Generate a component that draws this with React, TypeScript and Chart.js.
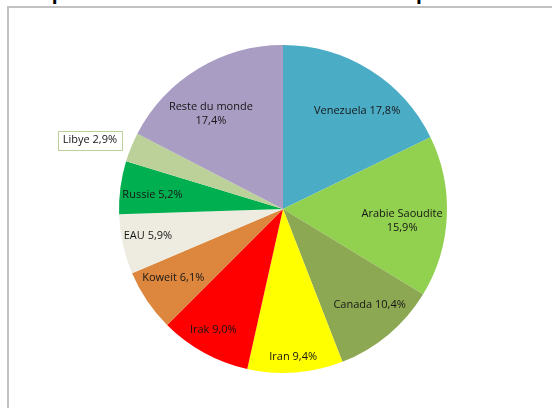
import React, { useEffect, useRef } from "react";
import { Chart, registerables } from "chart.js";

Chart.register(...registerables);

const TITLE = "Répartition des réserves mondiales de pétrole";
const categories = [
  "Venezuela",
  "Arabie Saoudite",
  "Canada",
  "Iran",
  "Irak",
  "Koweit",
  "EAU",
  "Russie",
  "Libye",
  "Reste du monde",
];
const shares = [17.8, 15.9, 10.4, 9.4, 9.0, 6.1, 5.9, 5.2, 2.9, 17.4];
const colors = [
  "#4BACC6",
  "#92D050",
  "#8DA852",
  "#FFFF00",
  "#FF0000",
  "#DC873D",
  "#EEECE1",
  "#00B050",
  "#BCD199",
  "#A99DC3",
];
// label layout: fraction of radius, angle shift (deg) from slice bisector, wrap, boxed
const labelRadius = [0.75, 0.73, 0.79, 0.905, 0.85, 0.79, 0.84, 0.8, 1.25, 0.727];
const labelShift = [5, 3.2, -2, 0.4, 1.2, 1.9, 1.1, -1.5, -2.5, -5.9];
const labelWrap = [false, true, false, false, false, false, false, false, false, true];
const labelBoxed = [false, false, false, false, false, false, false, false, true, false];

const fmt = (v: number) => v.toFixed(1).replace(".", ",") + "%";

const labelPlugin = {
  id: "sliceLabels",
  afterDatasetsDraw(chart: any) {
    const ctx = chart.ctx;
    const meta = chart.getDatasetMeta(0);
    ctx.save();
    ctx.font = "11px 'Open Sans', sans-serif";
    ctx.textAlign = "center";
    ctx.textBaseline = "middle";
    meta.data.forEach((arc: any, i: number) => {
      const p = arc.getProps(["x", "y", "startAngle", "endAngle", "outerRadius"], true);
      const mid = (p.startAngle + p.endAngle) / 2 + (labelShift[i] * Math.PI) / 180;
      const r = p.outerRadius * labelRadius[i];
      const cx = p.x + Math.cos(mid) * r;
      const cy = p.y + Math.sin(mid) * r;
      const value = fmt(shares[i]);
      const lines = labelWrap[i] ? [categories[i], value] : [categories[i] + " " + value];
      const lh = 14;
      if (labelBoxed[i]) {
        const w = Math.max(...lines.map((l) => ctx.measureText(l).width)) + 10;
        const h = lines.length * lh + 5;
        ctx.fillStyle = "#ffffff";
        ctx.fillRect(cx - w / 2, cy - h / 2, w, h);
        ctx.strokeStyle = colors[i];
        ctx.lineWidth = 1;
        ctx.strokeRect(Math.round(cx - w / 2) + 0.5, Math.round(cy - h / 2) + 0.5, Math.round(w), Math.round(h));
      }
      ctx.fillStyle = "#161616";
      lines.forEach((l, k) => {
        ctx.fillText(l, cx, cy + (k - (lines.length - 1) / 2) * lh);
      });
    });
    ctx.restore();
  },
};

export default function App() {
  const ref = useRef<HTMLCanvasElement | null>(null);
  useEffect(() => {
    if (!ref.current) return;
    const chart = new Chart(ref.current, {
      type: "pie",
      data: {
        labels: categories,
        datasets: [
          {
            data: shares,
            backgroundColor: colors,
            borderWidth: 0,
          },
        ],
      },
      options: {
        responsive: false,
        animation: false,
        devicePixelRatio: 1,
        layout: { padding: { top: 45, bottom: 35, left: 119, right: 105 } },
        plugins: {
          legend: { display: false },
          tooltip: { enabled: false },
          title: { display: false },
        },
      },
      plugins: [labelPlugin],
    });
    return () => chart.destroy();
  }, []);

  return (
    <div
      style={{
        position: "fixed",
        left: 0,
        top: 0,
        width: 552,
        height: 408,
        overflow: "hidden",
        background: "#ffffff",
      }}
    >
      <div
        style={{
          position: "absolute",
          left: 25,
          top: -18,
          fontFamily: "'Liberation Sans', Arial, sans-serif",
          fontWeight: "bold",
          fontSize: 21,
          lineHeight: "21px",
          whiteSpace: "nowrap",
          color: "#000",
        }}
      >
        {TITLE}
      </div>
      <div
        style={{
          position: "absolute",
          left: 7,
          top: 6,
          width: 600,
          height: 500,
          borderLeft: "2px solid #c2c2c2",
          borderTop: "2px solid #c2c2c2",
          boxSizing: "border-box",
        }}
      />
      <canvas
        ref={ref}
        width={552}
        height={408}
        style={{ position: "absolute", left: 0, top: 0, width: 552, height: 408 }}
      />
    </div>
  );
}
